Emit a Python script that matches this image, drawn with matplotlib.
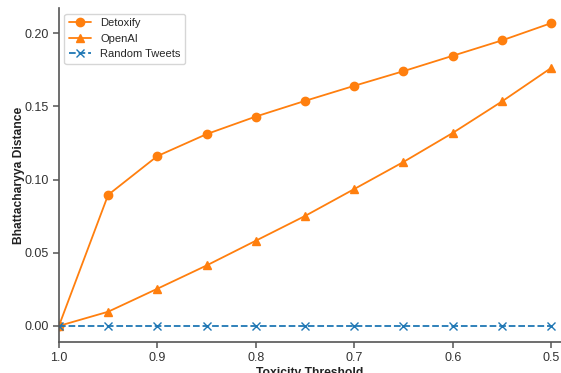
import matplotlib
matplotlib.use('Agg')
import matplotlib.pyplot as plt
import seaborn as sns

# --- DATA --------------------------------------------------------------------
thresholds = [1.0, 0.95, 0.9, 0.85, 0.8, 0.75, 0.7, 0.65, 0.6, 0.55, 0.5]
detoxify = [0.0, 0.0895, 0.116, 0.131, 0.143, 0.1537, 0.164, 0.174, 0.1845, 0.195, 0.2068]
openai = [0.0, 0.0097, 0.0254, 0.0413, 0.0582, 0.0751, 0.0935, 0.112, 0.1318, 0.1533, 0.1762]
random_tweets = [0.0] * len(thresholds)

sns.set_theme(style="ticks")
plt.rcParams['font.family'] = ['Liberation Sans', 'DejaVu Sans']

fig = plt.figure(figsize=(5.61, 3.73), dpi=100)
ax = fig.add_axes([0.105, 0.083, 0.895, 0.895])

orange = '#ff7f0e'
blue = '#1f77b4'
ax.plot(thresholds, detoxify, color=orange, marker='o', markersize=6, linewidth=1.3, label='Detoxify')
ax.plot(thresholds, openai, color=orange, marker='^', markersize=6, linewidth=1.3, label='OpenAI')
ax.plot(thresholds, random_tweets, color=blue, marker='x', markersize=6, linewidth=1.3,
        linestyle='--', label='Random Tweets')

ax.set_xlim(1.0, 0.49)
ax.set_ylim(-0.011, 0.217)
ax.set_xticks([1.0, 0.9, 0.8, 0.7, 0.6, 0.5])
ax.set_yticks([0.0, 0.05, 0.10, 0.15, 0.20])
ax.tick_params(labelsize=9, length=4, color='#555555', labelcolor='#333333', width=1.1)
for side in ('left', 'bottom'):
    ax.spines[side].set_color('#555555')
    ax.spines[side].set_linewidth(1.2)

ax.set_xlabel('Toxicity Threshold', fontsize=8.7, fontweight='bold', color='#222222', labelpad=2)
ax.set_ylabel('Bhattacharyya Distance', fontsize=8.7, fontweight='bold', color='#222222', labelpad=-0.5)

ax.legend(loc='upper left', fontsize=8, frameon=True)
sns.despine(ax=ax)

fig.savefig('out.png', dpi=100)
